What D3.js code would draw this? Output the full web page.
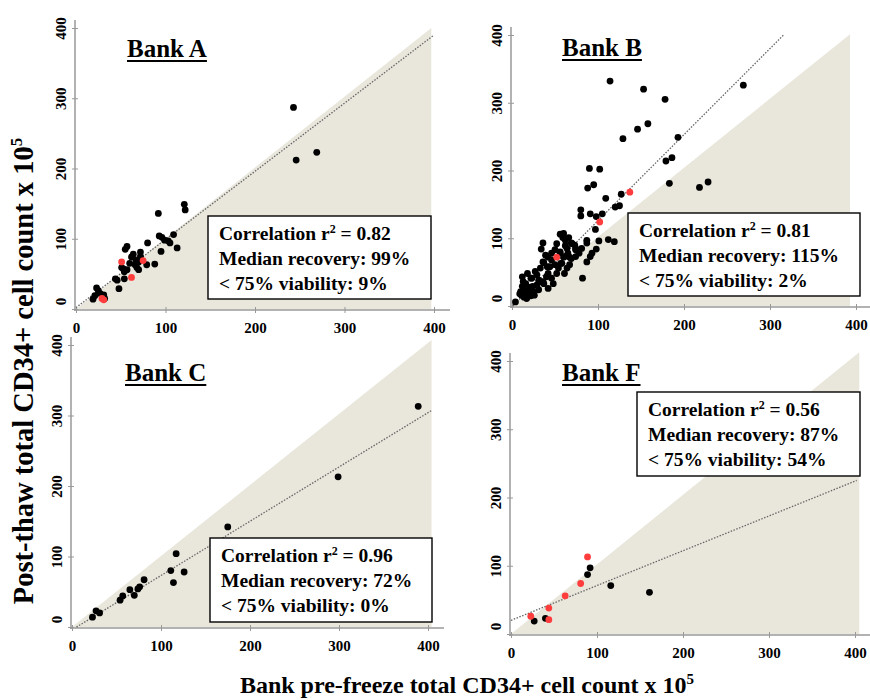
<!DOCTYPE html>
<html>
<head>
<meta charset="utf-8">
<script src="https://cdn.jsdelivr.net/npm/d3@7"></script>
<style>
body { margin: 0; background: #fff; }
text { font-family: "Liberation Serif", "Times New Roman", serif; font-weight: bold; fill: #000; }
</style>
</head>
<body>
<div id="chart"></div>
<script>
// ---- data ----
var banks = ["Bank A", "Bank B", "Bank C", "Bank F"];
var tickValues = [0, 100, 200, 300, 400];

var bankA_black = [[243,287],[246,212],[269,223],[121,149],[122,141],[92,136],[93,104],[96,102],[99,98],[103,97],
  [109,106],[105,94],[113,87],[80,94],[95,82],[88,64],[79,63],[72,81],[72,75],[64,78],[67,70],[70,67],[68,59],
  [70,56],[66,63],[62,74],[60,65],[57,89],[55,85],[51,59],[53,57],[57,56],[54,53],[54,43],[46,41],[44,43],[48,29],
  [23,30],[25,26],[27,22],[21,19],[31,20],[19,14],[32,15]];
var bankA_red = [[51,67],[75,69],[62,45],[29,15],[31,13]];

var bankB_black = [[114,332],[153,320],[178,305],[269,326],[146,261],[158,269],[129,247],[193,249],[186,219],[179,214],
  [90,203],[102,202],[95,179],[88,174],[183,181],[218,175],[228,183],[127,165],[109,159],[125,148],[120,146],[80,142],
  [80,133],[91,136],[98,132],[105,136],[97,113],[112,98],[119,95],[101,96],[87,97],[87,93],[98,84],[93,78],[91,73],
  [87,65],[82,41],[60,107],[62,97],[69,93],[73,90],[64,85],[56,80],[56,106],[59,101],[66,101],[36,93],[34,84],[52,92],
  [62,89],[74,85],[81,85],[60,72],[65,78],[69,70],[42,72],[36,65],[44,58],[33,56],[27,51],[58,63],[64,56],[52,48],
  [40,43],[31,38],[23,41],[13,36],[15,24],[19,28],[25,21],[11,16],[17,11],[22,15],[4,6],[36,36],[48,33],[29,31],
  [42,26],[46,78],[39,75],[74,83],[78,78],[50,83],[56,78],[61,73],[67,72],[74,73],[46,68],[37,64],[41,58],[50,61],
  [57,63],[67,61],[29,46],[42,48],[18,48],[22,41],[12,43],[33,36],[16,33],[24,29],[12,29],[10,21],[14,19],[20,21],
  [26,16],[14,13],[9,18],[18,14],[31,24],[37,33],[46,41],[54,56],[61,48],[70,92]];
var bankB_red = [[52,72],[102,124],[137,168]];

var bankC_black = [[389,313],[299,213],[175,142],[117,104],[111,80],[126,78],[114,63],[81,67],[76,57],[74,54],
  [65,53],[70,45],[57,44],[54,38],[27,23],[31,20],[23,14]];
var bankC_red = [];

var bankF_black = [[92,97],[89,87],[116,71],[161,61],[40,23],[27,19]];
var bankF_red = [[89,113],[81,74],[63,56],[44,38],[44,21],[23,26]];

var correlations = ["0.82", "0.81", "0.96", "0.56"];
var medianRecovery = ["99%", "115%", "72%", "87%"];
var lowViability = ["9%", "2%", "0%", "54%"];

// dotted fit lines: y = slope * x + intercept
var fitSlope = [0.97, 1.27, 0.77, 0.51];
var fitIntercept = [2, -1, -4, 20];
var fitFrom = [0, 1, 5, 0];
var fitTo = [400, 316, 405, 402];

// shaded region (below identity line), top corner
var shadeTop = [[397,400],[393,401],[404,407],[405,413]];

var blackPts = [bankA_black, bankB_black, bankC_black, bankF_black];
var redPts = [bankA_red, bankB_red, bankC_red, bankF_red];

// ---- layout (pixels) ----
var layout = [
  { x0: 76,  x1: 434, y0: 309, y1: 28,  title: [127, 57],  box: [208, 216, 223, 83] },
  { x0: 512, x1: 856, y0: 306, y1: 35,  title: [562, 56],  box: [628, 213, 232, 83] },
  { x0: 72,  x1: 428, y0: 627, y1: 345, title: [125, 381], box: [210, 538, 222, 84] },
  { x0: 511, x1: 855, y0: 634, y1: 361, title: [562, 381], box: [637, 392, 223, 84] }
];

var svg = d3.select("#chart").append("svg")
  .attr("width", 870)
  .attr("height", 700);

banks.forEach(function (name, i) {
  var L = layout[i];
  var x = d3.scaleLinear().domain([0, 400]).range([L.x0, L.x1]);
  var y = d3.scaleLinear().domain([0, 400]).range([L.y0, L.y1]);
  var g = svg.append("g");

  // shaded triangle
  var st = shadeTop[i];
  g.append("path")
    .attr("d", d3.line()([[x(0), y(0)], [x(st[0]), y(0)], [x(st[0]), y(st[1])]]) + "Z")
    .attr("fill", "#e9e7dc");

  // x axis
  var xAxis = g.append("g")
    .attr("transform", "translate(0," + (L.y0 + 1) + ")")
    .call(d3.axisBottom(x).tickValues(tickValues).tickSizeOuter(0));
  xAxis.select(".domain").remove();
  xAxis.selectAll(".tick line").attr("y1", -3).attr("y2", 3).attr("stroke", "#999");
  xAxis.selectAll(".tick text")
    .attr("y", 12)
    .style("font-size", "15px")
    .style("font-family", "'Liberation Serif', serif")
    .style("font-weight", "bold");
  xAxis.append("line")
    .attr("x1", L.x0 - 2).attr("x2", L.x1 + 16)
    .attr("stroke", "#999").attr("stroke-width", 1.5);

  // y axis
  var yAxis = g.append("g")
    .attr("transform", "translate(" + (L.x0 - 1) + ",0)")
    .call(d3.axisLeft(y).tickValues(tickValues).tickSizeOuter(0));
  yAxis.select(".domain").remove();
  yAxis.selectAll(".tick line").attr("x1", -3).attr("x2", 3).attr("stroke", "#999");
  yAxis.selectAll(".tick text")
    .attr("x", function (d) { return d === 0 ? 8 : 0; })
    .attr("y", -9).attr("dy", null)
    .attr("transform", "rotate(-90)")
    .attr("text-anchor", "middle")
    .style("font-size", "15px")
    .style("font-family", "'Liberation Serif', serif")
    .style("font-weight", "bold");
  yAxis.append("line")
    .attr("y1", L.y0 + 2).attr("y2", L.y1 - 8)
    .attr("stroke", "#999").attr("stroke-width", 1.5);

  // dotted fit line
  g.append("line")
    .attr("x1", x(fitFrom[i])).attr("y1", y(fitSlope[i] * fitFrom[i] + fitIntercept[i]))
    .attr("x2", x(fitTo[i])).attr("y2", y(fitSlope[i] * fitTo[i] + fitIntercept[i]))
    .attr("stroke", "#666")
    .attr("stroke-width", 1.3)
    .attr("stroke-dasharray", "1.5,1.5");

  // points
  g.selectAll(".blk").data(blackPts[i]).enter()
    .append("circle")
    .attr("class", "blk")
    .attr("cx", function (d) { return x(d[0]); })
    .attr("cy", function (d) { return y(d[1]); })
    .attr("r", 3.4)
    .attr("fill", "#000");
  g.selectAll(".red").data(redPts[i]).enter()
    .append("circle")
    .attr("class", "red")
    .attr("cx", function (d) { return x(d[0]); })
    .attr("cy", function (d) { return y(d[1]); })
    .attr("r", 3.4)
    .attr("fill", "#ff3d3d");

  // panel title, underlined
  var t = g.append("text")
    .attr("x", L.title[0]).attr("y", L.title[1])
    .style("font-size", "25px")
    .text(name);
  var tw = t.node().getComputedTextLength();
  g.append("line")
    .attr("x1", L.title[0]).attr("x2", L.title[0] + tw)
    .attr("y1", L.title[1] + 4).attr("y2", L.title[1] + 4)
    .attr("stroke", "#000").attr("stroke-width", 2.2);

  // stats box
  var b = L.box;
  g.append("rect")
    .attr("x", b[0]).attr("y", b[1]).attr("width", b[2]).attr("height", b[3])
    .attr("fill", "#fff").attr("stroke", "#000").attr("stroke-width", 1.4);
  var l1 = g.append("text").attr("x", b[0] + 11).attr("y", b[1] + 24).style("font-size", "19.5px");
  l1.append("tspan").text("Correlation r");
  l1.append("tspan").attr("dy", -7).style("font-size", "12px").text("2");
  l1.append("tspan").attr("dy", 7).text(" = " + correlations[i]);
  g.append("text").attr("x", b[0] + 11).attr("y", b[1] + 49).style("font-size", "19.5px")
    .text("Median recovery: " + medianRecovery[i]);
  g.append("text").attr("x", b[0] + 11).attr("y", b[1] + 74).style("font-size", "19.5px")
    .text("< 75% viability: " + lowViability[i]);
});

// axis titles
var xt = svg.append("text")
  .attr("x", 467).attr("y", 693)
  .attr("text-anchor", "middle")
  .style("font-size", "24px");
xt.append("tspan").text("Bank pre-freeze total CD34+ cell count x 10");
xt.append("tspan").attr("dy", -9).style("font-size", "15px").text("5");

var yt = svg.append("text")
  .attr("transform", "translate(33,371) rotate(-90)")
  .attr("text-anchor", "middle")
  .style("font-size", "28.5px");
yt.append("tspan").text("Post-thaw total CD34+ cell count x 10");
yt.append("tspan").attr("dy", -11).style("font-size", "17px").text("5");
</script>
</body>
</html>
